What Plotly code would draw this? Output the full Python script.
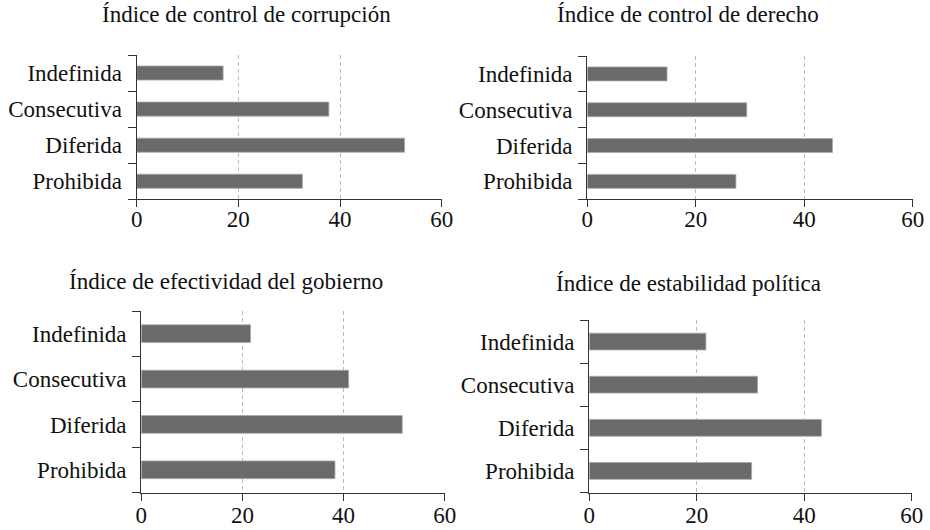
import plotly.graph_objects as go

# categories from bottom to top
categorias = ['Prohibida', 'Diferida', 'Consecutiva', 'Indefinida']

titulos = ['Índice de control de corrupción',
           'Índice de control de derecho',
           'Índice de efectividad del gobierno',
           'Índice de estabilidad política']

corrupcion = [32.6, 52.7, 37.8, 17.0]
derecho = [27.4, 45.2, 29.4, 14.7]
efectividad = [38.3, 51.6, 41.0, 21.6]
estabilidad = [30.2, 43.2, 31.3, 21.7]

x_ticks = [0, 20, 40, 60]

W, H = 930, 530
font_name = 'Liberation Serif, Times New Roman, serif'
bar_color = '#6a6a6a'

# panel boxes in pixels: (left, right, top, bottom), title center (x, y), x label standoff
panels = [
    dict(box=(136.7, 441.7, 55, 199.3), title=(247, 15), xs=-8),
    dict(box=(587.3, 912.7, 56, 199.3), title=(688, 15), xs=-8),
    dict(box=(141.3, 444.7, 311, 492.5), title=(226, 281), xs=-5),
    dict(box=(589.3, 911.7, 320, 492.5), title=(688, 283), xs=-5),
]

series = [corrupcion, derecho, efectividad, estabilidad]

fig = go.Figure()
layout_axes = {}
annotations = []

for i, (vals, p, titulo) in enumerate(zip(series, panels, titulos)):
    n = '' if i == 0 else str(i + 1)
    fig.add_trace(go.Bar(
        x=vals,
        y=categorias,
        orientation='h',
        width=0.39,
        marker=dict(color=bar_color, line=dict(color='#a8a8a8', width=0.8)),
        xaxis='x' + n,
        yaxis='y' + n,
        showlegend=False,
    ))
    l, r, t, b = p['box']
    layout_axes['xaxis' + n] = dict(
        domain=[l / W, r / W],
        anchor='y' + n,
        range=[0, 60],
        tickvals=x_ticks,
        ticks='outside',
        ticklen=7,
        tickwidth=1.3,
        tickcolor='#333',
        ticklabelstandoff=p['xs'],
        showline=True,
        linecolor='#333',
        linewidth=1.3,
        showgrid=True,
        gridcolor='#bdbdbd',
        gridwidth=1,
        griddash='4px,3px',
        zeroline=False,
        fixedrange=True,
        automargin=False,
        tickfont=dict(family=font_name, size=23, color='#111'),
    )
    layout_axes['yaxis' + n] = dict(
        domain=[1 - b / H, 1 - t / H],
        anchor='x' + n,
        type='category',
        categoryorder='array',
        categoryarray=categorias,
        range=[-0.5, 3.5],
        ticks='outside',
        tickson='boundaries',
        ticklen=8,
        tickwidth=1.3,
        tickcolor='#333',
        ticklabelstandoff=9,
        showline=True,
        linecolor='#333',
        linewidth=1.3,
        showgrid=False,
        zeroline=False,
        fixedrange=True,
        automargin=False,
        tickfont=dict(family=font_name, size=23, color='#111'),
    )
    tx, ty = p['title']
    annotations.append(dict(
        text=titulo, x=tx / W, y=1 - ty / H, xref='paper', yref='paper',
        xanchor='center', yanchor='middle', showarrow=False,
        font=dict(family=font_name, size=23, color='#111'),
    ))

fig.update_layout(
    width=W,
    height=H,
    autosize=False,
    margin=dict(l=0, r=0, t=0, b=0, pad=0),
    paper_bgcolor='white',
    plot_bgcolor='white',
    annotations=annotations,
    **layout_axes
)

fig.write_html(
    "out.html",
    config={'responsive': False, 'displayModeBar': False},
    post_script="document.body.style.margin='0';document.body.style.overflow='hidden';",
)
